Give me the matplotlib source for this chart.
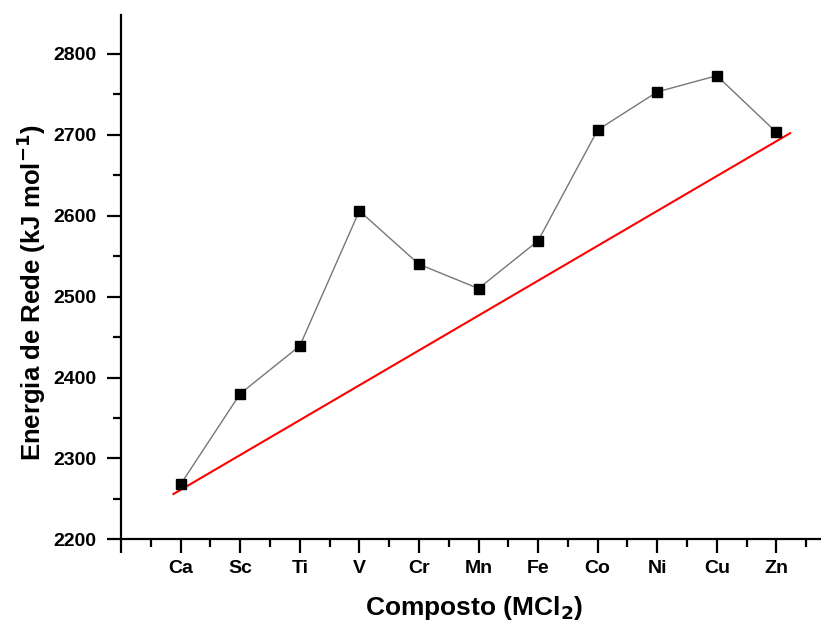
# Energia de rede dos cloretos MCl2 (Ca -> Zn)

import numpy as np
import matplotlib
matplotlib.use('Agg')
import matplotlib.pyplot as plt
from matplotlib.ticker import MultipleLocator

# dados
metais = ['Ca', 'Sc', 'Ti', 'V', 'Cr', 'Mn', 'Fe', 'Co', 'Ni', 'Cu', 'Zn']
energia = [2268, 2380, 2439, 2606, 2540, 2510, 2569, 2706, 2753, 2773, 2703]

# reta de referencia (extremos)
reta_x = [0.88, 11.23]
reta_y = [2256, 2702]

plt.rcParams['font.family'] = ['Liberation Sans', 'DejaVu Sans']
plt.rcParams['font.weight'] = 'bold'

fig = plt.figure(figsize=(8.21, 6.25), dpi=100)
ax = fig.add_axes([0.1474, 0.137, 0.86, 0.839])

pos = np.arange(1, len(metais) + 1)
ax.plot(pos, energia, color='#777777', linewidth=1.0, marker='s',
        markersize=7, markerfacecolor='black', markeredgecolor='black', zorder=3)
ax.plot(reta_x, reta_y, color='red', linewidth=1.5, zorder=2)

ax.set_xlim(0, 11.85)
ax.set_ylim(2200, 2848)

ax.set_xticks(np.arange(0, 12))
ax.set_xticklabels([''] + metais)
ax.xaxis.set_minor_locator(MultipleLocator(0.5))
ax.yaxis.set_major_locator(MultipleLocator(100))
ax.yaxis.set_minor_locator(MultipleLocator(50))

for s in ['top', 'right']:
    ax.spines[s].set_visible(False)
for s in ['left', 'bottom']:
    ax.spines[s].set_linewidth(1.6)

ax.tick_params(which='major', direction='out', length=10, width=1.6,
               labelsize=14)
ax.tick_params(axis='x', which='major', pad=5)
ax.tick_params(axis='y', which='major', pad=8)
ax.tick_params(which='minor', direction='out', length=6, width=1.6)

ax.set_xlabel('Composto (MCl$_\\mathbf{2}$)', fontsize=19, fontweight='bold', labelpad=12)
ax.set_ylabel('Energia de Rede (kJ mol$^\\mathbf{-1}$)', fontsize=18.5, fontweight='bold')
ax.yaxis.set_label_coords(-0.104, 0.47)

plt.savefig('out.png', dpi=100)
